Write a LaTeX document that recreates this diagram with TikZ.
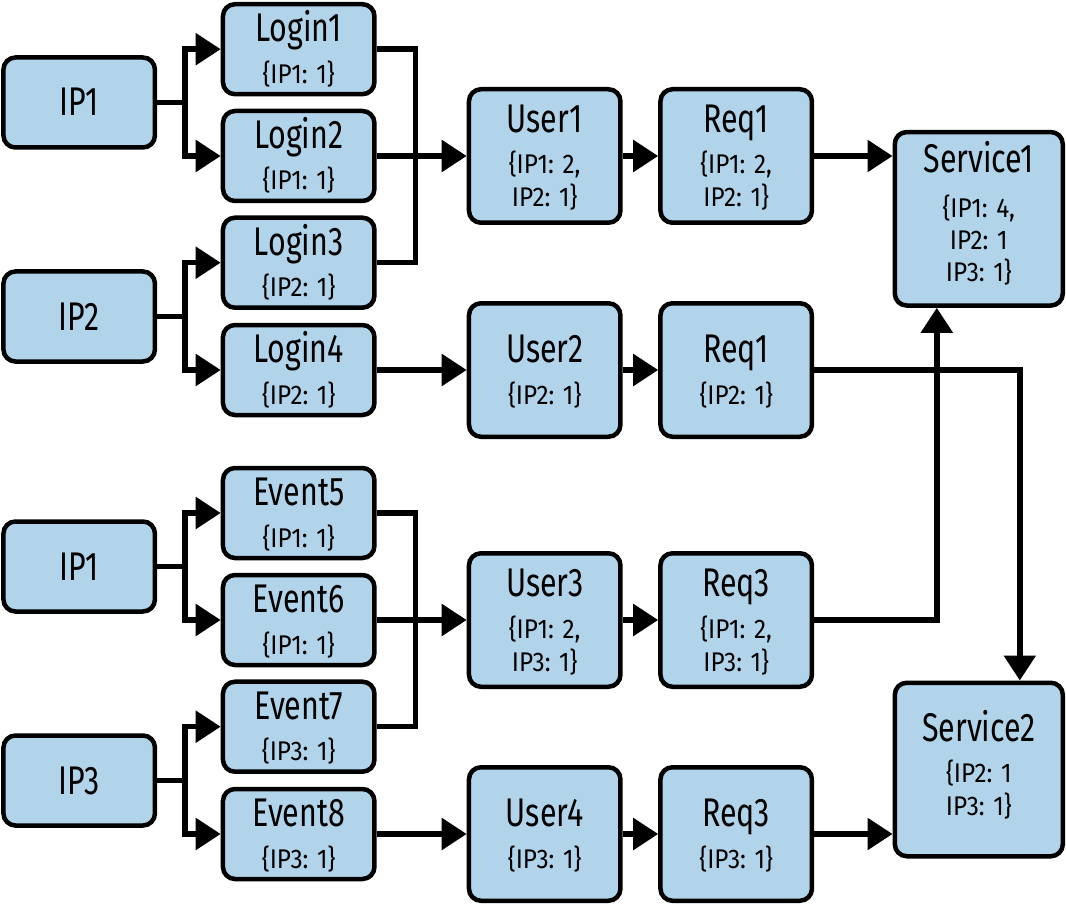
\documentclass[tikz,border=0pt]{standalone}
\usepackage{fontspec}
\newfontfamily\ttlfam{Fira Sans}[FakeStretch=0.76]
\newfontfamily\subfam{Fira Sans}[FakeStretch=0.9]
\usetikzlibrary{arrows.meta,calc}
\definecolor{boxblue}{RGB}{177,212,234}
\tikzset{
  boxbase/.style={draw=black, line width=4.5pt, rounded corners=12pt, fill=boxblue, inner sep=0pt},
  sbox/.style={boxbase, minimum width=151.5pt, minimum height=90pt},
  tbox/.style={boxbase, minimum width=151.5pt, minimum height=133.5pt},
  svbox/.style={boxbase, minimum width=168pt, minimum height=173.5pt},
  ttl/.style={anchor=base, inner sep=0pt, font=\ttlfam\fontsize{40}{40}\selectfont},
  sub/.style={anchor=base, inner sep=0pt, font=\subfam\fontsize{27}{27}\selectfont},
  conn/.style={line width=5.5pt, draw=black},
  arr/.style={conn, -{Triangle[length=25pt,width=31pt]}},
}
\newcommand{\ipbx}[4]{% name, x, y, title
  \node[sbox] (#1) at (#2,#3) {};
  \node[ttl] (#1-t) at (#2,#3+13.5) {#4};
}
\newcommand{\sbx}[5]{% name, x, y, title, sub
  \node[sbox] (#1) at (#2,#3) {};
  \node[ttl] (#1-t) at (#2,#3-7.5) {#4};
  \node[sub] (#1-s) at (#2,#3+34) {#5};
}
\newcommand{\tbx}[6]{% name, x, y, title, sub1, sub2
  \node[tbox] (#1) at (#2,#3) {};
  \node[ttl] (#1-t) at (#2,#3-23.5) {#4};
  \node[sub] (#1-a) at (#2,#3+18) {#5};
  \node[sub] (#1-b) at (#2,#3+51) {#6};
}
\begin{document}
\begin{tikzpicture}[x=1pt,y=-1pt]
\useasboundingbox (0,0) rectangle (1066,904);
% sources
\ipbx{ipA}{79.2}{102.5}{IP1}
\ipbx{ipB}{79.2}{316.5}{IP2}
\ipbx{ipC}{79.2}{566.5}{IP1}
\ipbx{ipD}{79.2}{780.5}{IP3}
% logins / events
\sbx{L1}{298.7}{49.2}{Login1}{\{IP1: 1\}}
\sbx{L2}{298.7}{156}{Login2}{\{IP1: 1\}}
\sbx{L3}{298.7}{262.7}{Login3}{\{IP2: 1\}}
\sbx{L4}{298.7}{370}{Login4}{\{IP2: 1\}}
\sbx{E5}{298.7}{513}{Event5}{\{IP1: 1\}}
\sbx{E6}{298.7}{620}{Event6}{\{IP1: 1\}}
\sbx{E7}{298.7}{726.7}{Event7}{\{IP3: 1\}}
\sbx{E8}{298.7}{834}{Event8}{\{IP3: 1\}}
% users / requests
\tbx{U1}{544.7}{156}{User1}{\{IP1: 2,}{IP2: 1\}}
\tbx{R1}{736.2}{156}{Req1}{\{IP1: 2,}{IP2: 1\}}
\tbx{U3}{544.7}{620}{User3}{\{IP1: 2,}{IP3: 1\}}
\tbx{R3}{736.2}{620}{Req3}{\{IP1: 2,}{IP3: 1\}}
\node[tbox] (U2) at (544.7,370) {};
\node[ttl] (U2-t) at (544.7,370-7.5) {User2};
\node[sub] (U2-s) at (544.7,370+34) {\{IP2: 1\}};
\node[tbox] (R2) at (736.2,370) {};
\node[ttl] (R2-t) at (736.2,370-7.5) {Req1};
\node[sub] (R2-s) at (736.2,370+34) {\{IP2: 1\}};
\node[tbox] (U4) at (544.7,834) {};
\node[ttl] (U4-t) at (544.7,834-7.5) {User4};
\node[sub] (U4-s) at (544.7,834+34) {\{IP3: 1\}};
\node[tbox] (R4) at (736.2,834) {};
\node[ttl] (R4-t) at (736.2,834-7.5) {Req3};
\node[sub] (R4-s) at (736.2,834+34) {\{IP3: 1\}};
% services
\node[svbox] (S1) at (978.8,218.8) {};
\node[ttl] (S1-t) at (978.8,218.8-46) {Service1};
\node[sub] (S1-a) at (978.8,218.8-1.5) {\{IP1: 4,};
\node[sub] (S1-b) at (978.8,218.8+30.5) {IP2: 1};
\node[sub] (S1-c) at (978.8,218.8+63) {IP3: 1\}};
\node[svbox] (S2) at (978.8,769.5) {};
\node[ttl] (S2-t) at (978.8,769.5-28) {Service2};
\node[sub] (S2-a) at (978.8,769.5+13) {\{IP2: 1};
\node[sub] (S2-b) at (978.8,769.5+45.5) {IP3: 1\}};
% forks
\draw[arr] (ipA.east) -- ++(28,0) |- (L1.west);
\draw[arr] (ipA.east) -- ++(28,0) |- (L2.west);
\draw[arr] (ipB.east) -- ++(28,0) |- (L3.west);
\draw[arr] (ipB.east) -- ++(28,0) |- (L4.west);
\draw[arr] (ipC.east) -- ++(28,0) |- (E5.west);
\draw[arr] (ipC.east) -- ++(28,0) |- (E6.west);
\draw[arr] (ipD.east) -- ++(28,0) |- (E7.west);
\draw[arr] (ipD.east) -- ++(28,0) |- (E8.west);
% merges
\draw[conn] (L1.east) -- ++(39,0) |- (L3.east);
\draw[arr] (L2.east) -- (L2.east -| U1.west);
\draw[arr] (L4.east) -- (L4.east -| U2.west);
\draw[conn] (E5.east) -- ++(39,0) |- (E7.east);
\draw[arr] (E6.east) -- (E6.east -| U3.west);
\draw[arr] (E8.east) -- (E8.east -| U4.west);
% chains
\draw[arr] (U1.east) -- (R1.west);
\draw[arr] (U2.east) -- (R2.west);
\draw[arr] (U3.east) -- (R3.west);
\draw[arr] (U4.east) -- (R4.west);
% to services
\draw[arr] (R1.east) -- (R1.east -| S1.west);
\draw[arr] (R3.east) -| ($(S1.south)+(-42,0)$);
\draw[arr] (R2.east) -| ($(S2.north)+(41,0)$);
\draw[arr] (R4.east) -- (R4.east -| S2.west);
\end{tikzpicture}
\end{document}
